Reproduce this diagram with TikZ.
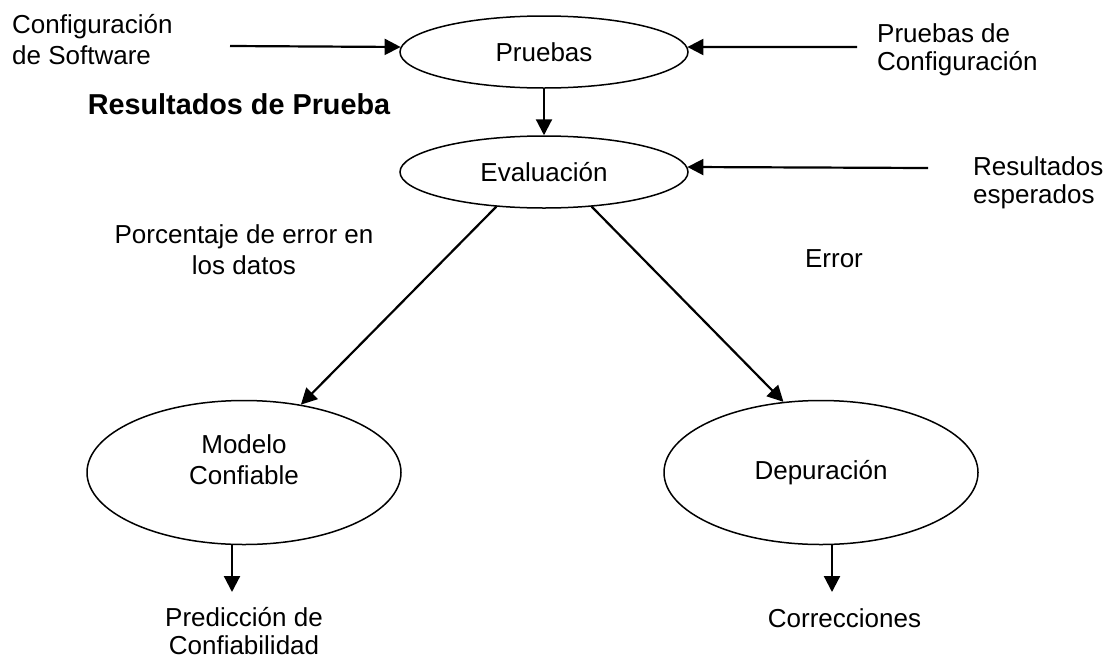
\documentclass[tikz,border=0pt]{standalone}
\usepackage{fontspec}
\setmainfont{Liberation Sans}
\usetikzlibrary{arrows.meta,shapes.geometric}
\begin{document}
\begin{tikzpicture}[x=1pt,y=-1pt,
  ellip/.style={ellipse,draw,line width=1.5pt,inner sep=0pt,font=\fontsize{26}{31}\selectfont},
  arr/.style={line width=2.2pt,-{Triangle[length=16pt,width=16pt]}},
  lbl/.style={inner sep=0pt,font=\fontsize{26}{31}\selectfont},
  lbltight/.style={inner sep=0pt,font=\fontsize{26}{27.5}\selectfont}]
\fill[white] (0,0) rectangle (1110,659);
\useasboundingbox (0,0) rectangle (1110,659);

% ellipses
\node[ellip,minimum width=288pt,minimum height=72pt] (pru) at (544,52) {Pruebas};
\node[ellip,minimum width=288pt,minimum height=72pt] (eva) at (544,172) {Evaluación};
\node[ellip,minimum width=314pt,minimum height=144pt,align=center] (mod) at (244,472.5) {Modelo\\Confiable\rule[-25pt]{0pt}{25pt}};
\node[ellip,minimum width=314pt,minimum height=144pt] (dep) at (821,472.5) {Depuración};

% labels (base anchor = baseline of the last line)
\node[lbl,align=left,anchor=base west] (csw) at (12,64) {Configuración\\de Software};
\node[inner sep=0pt,font=\fontsize{28.8}{31}\selectfont\bfseries,anchor=base] (rdp) at (239,114) {Resultados de Prueba};
\node[lbltight,align=left,anchor=base west] (pdc) at (877,70) {Pruebas de\\Configuración};
\node[lbltight,align=left,anchor=base west] (res) at (973,203) {Resultados\\esperados};
\node[lbl,align=center,anchor=base] (pct) at (244,274) {Porcentaje de error en\\los datos};
\node[lbl,anchor=base] (err) at (834,267) {Error};
\node[lbltight,align=center,anchor=base] (pred) at (244,654) {Predicción de\\Confiabilidad};
\node[lbl,anchor=base] (cor) at (844.5,627) {Correcciones};

% free ends
\coordinate (s1) at (230,46);
\coordinate (s2) at (857,47);
\coordinate (s3) at (928,168);
\coordinate (t1) at (232,592);
\coordinate (t2) at (832,592);

% connectors
\draw[arr] (s1) -- (pru.178);
\draw[arr] (s2) -- (pru.2);
\draw[arr] (s3) -- (eva.2);
\draw[arr] (pru.south) -- (eva.north);
\draw[arr] (eva.216) -- (mod.50);
\draw[arr] (eva.324) -- (dep.118);
\draw[arr] (t1 |- mod.south) -- (t1);
\draw[arr] (t2 |- dep.south) -- (t2);
\end{tikzpicture}
\end{document}
